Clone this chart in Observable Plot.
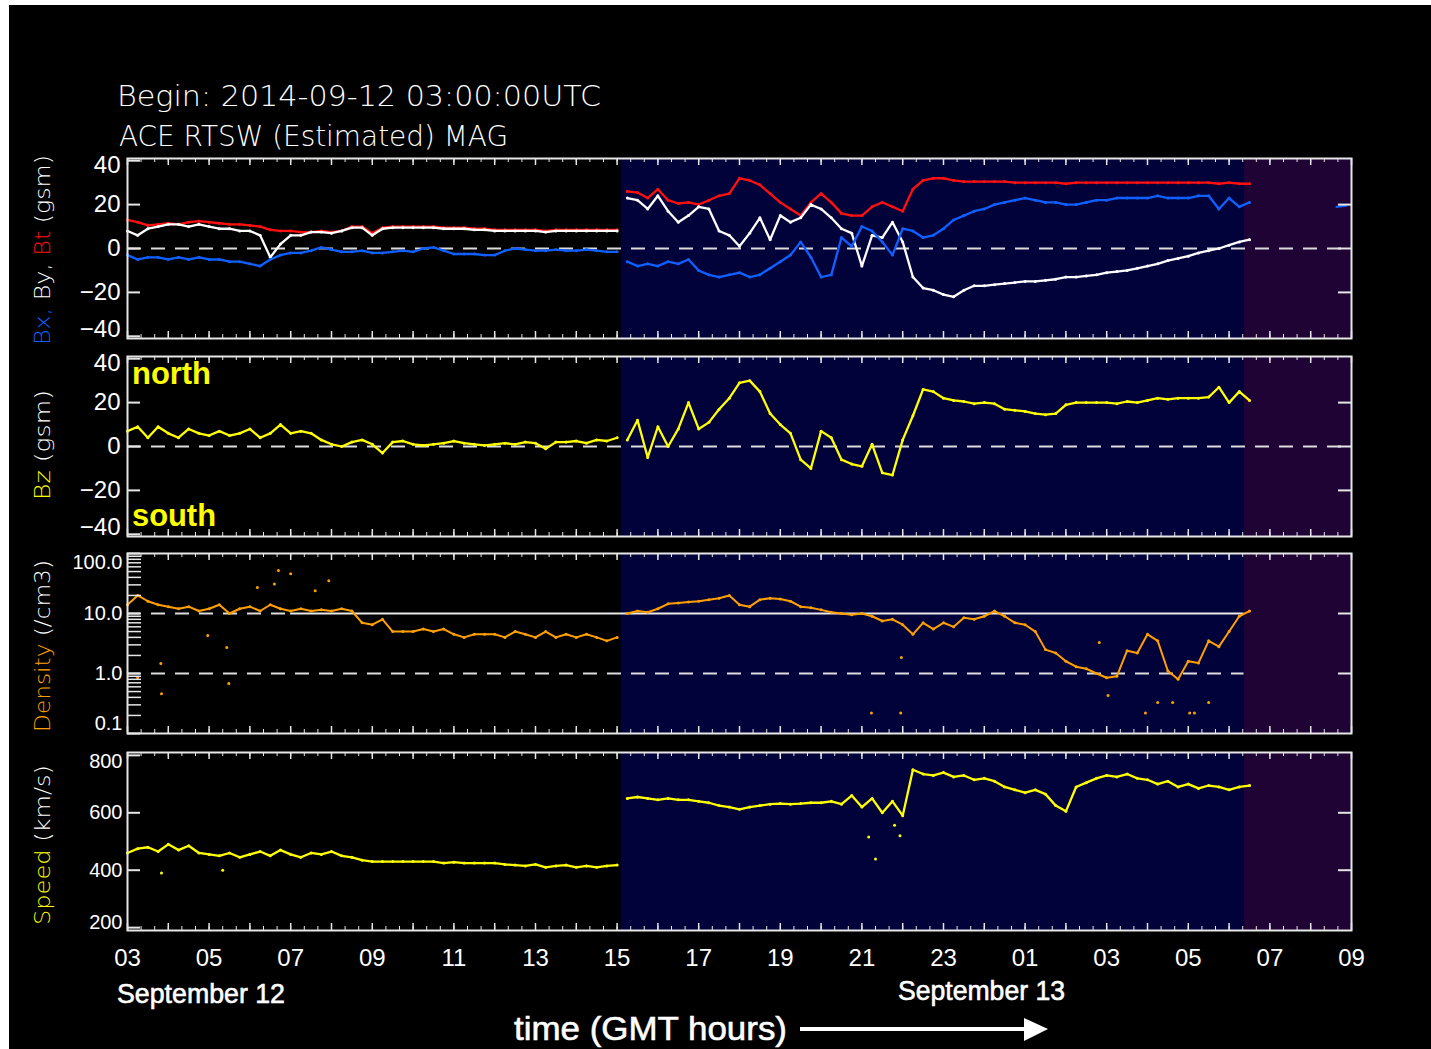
<!DOCTYPE html>
<html><head><meta charset="utf-8">
<script src="https://cdn.jsdelivr.net/npm/d3@7"></script>
<script src="https://cdn.jsdelivr.net/npm/@observablehq/plot@0.6"></script>
<style>
html,body{margin:0;padding:0;background:#fff;}
#page{position:relative;width:1431px;height:1049px;overflow:hidden;}
#bg{position:absolute;left:9px;top:5px;width:1422px;height:1044px;background:#000;}
.panel{position:absolute;left:0;}
#overlay{position:absolute;left:0;top:0;pointer-events:none;}
</style></head><body>
<div id="page">
<div id="bg"></div>
<div id="p1" class="panel"></div>
<div id="p2" class="panel"></div>
<div id="p3" class="panel"></div>
<div id="p4" class="panel"></div>
<svg id="overlay" width="1431" height="1049"></svg>
</div>
<script>
// ---------- data, 15-minute samples from 2014-09-12 03:00 UTC ----------
const startTime = "2014-09-12T03:00:00Z";
const endTime = "2014-09-13T09:00:00Z";
const stepMinutes = 15;
const navyStart = "2014-09-12T15:06:00Z";
const purpleStart = "2014-09-13T06:22:00Z";

const bt = [13,12,10.5,11,11.5,11,12,12.5,12,11.5,11,11,
  10.5,10,8.5,8,8,7.5,7.5,8,7.5,8,10,10,
  7,9.5,10,10,10,10,10,9.5,9.5,9.5,9,9,
  8.5,8.5,8.5,8.5,8.5,8,8.5,8.5,8.5,8.5,8.5,8.5,
  8.5,26,25.5,23,27,22,20.5,21,20,22,24,25,
  32,31,29,25,21,18,15,21,25,21,16,15,
  15,19,21,19,17,27,31,32,32,31,30.5,30.5,
  30.5,30.5,30.5,30,30,30,30,30,29.5,30,30,30,
  30,30,30,30,30,30,30,30,30,30,30,29.5,
  30,29.5,29.5];
const by = [8,6,9,10,11,11,10,11,10,9,9,8,
  8,6,-4,2,6,6,7.5,7.5,7,8,9.5,9.5,
  6,9,9.5,9.5,9.5,9.5,9.5,9,9,9,8.5,8.5,
  8,8,8,8,8,7.5,8,8,8,8,8,8,
  8,23,22,18,24,17,12,15,19,18,8,6,
  1,7,14,4,15,12,14,20,18,14,9,7,
  -8,6,5,12,3,-13,-18,-19,-21,-22,-19,-17,
  -17,-16.5,-16,-15.5,-15,-15,-14.5,-14,-13,-13,-12.5,-12,
  -11,-10.5,-10,-9,-8,-7,-5.5,-4.5,-3.5,-2,-1,0,
  1.5,3,4];
const bx = [-3,-5,-4,-4,-5,-4,-5,-4,-5,-5,-6,-6,
  -7,-8,-5,-3,-2,-2,-1,0.5,-0.5,-1.5,-1.5,-1,
  -2,-2,-1.5,-1,-1.5,0,0.5,-1,-2.5,-2.5,-2.5,-3,
  -3,-1,0,-0.5,-1,-1,-0.5,-1,-1,-0.5,-1,-1.5,
  -1.5,-6,-8,-7,-8,-6,-7,-5,-10,-12,-13,-12,
  -11,-13,-12,-9,-6,-3,3,-4,-13,-12,5,1,
  10,8,3,-3,9,8,5,6,9,13,15,17,
  18,20,21,22,23,22,21,21,20,20,21,22,
  22,23,23,23,23,24,23,23,23,24,24,18,
  23,19,21];
const bxLateTimes = ["2014-09-13T08:38:00Z","2014-09-13T08:52:00Z"];
const bxLateValues = [19,19.5];

const bz = [7,9,4,9,6,4,8,6,5,7,5,6,
  8,4,6,10,6,7,6,3,1,0,2,3,
  1,-3,2,2.5,1,0.5,1,1.5,2.5,1.5,1,0.5,
  1,1.5,1,2,1.5,-1,2,2,2.5,1.5,3,2.5,
  4,3,12,-5,9,0,8,20,8,11,17,22,
  29,30,25,15,10,6,-6,-10,7,4,-6,-8,
  -9,1,-12,-13,3,14,26,25,22,21,20.5,19.5,
  20,19.5,17,16.5,16,15,14.5,15,19,20,20,20,
  20,19.5,20.5,20,21,22,21.5,22,22,22,22.5,27,
  20,25,21];

const density = [14,20,16,14,13,12,13,11,12,14,10,12,
  13,11,14,12,11,12,11,11.5,11,12,11,7,
  6.5,8,5,5,5,5.5,5,5.5,4.5,4,4.5,4.5,
  4.5,4,5,4.5,4,5,4,4.5,4,4.5,4,3.5,
  4,10,11,10.5,12,14.5,15,15.5,16,17,18,20,
  14,13,17,18,17.5,16,13,12.5,11.5,10.5,10,9.5,
  10,9,7.5,8,6.5,4.5,7,5.5,7,6,8.5,8,
  9,11,9,7,6.5,5,2.5,2.2,1.6,1.3,1.2,1.0,
  0.85,0.9,2.4,2.2,4.5,3.5,1.1,0.8,1.6,1.5,3.5,2.8,
  5,9,11];
const densityOutlierTimes = ["2014-09-12T03:15:00Z","2014-09-12T03:49:00Z","2014-09-12T03:50:00Z","2014-09-12T04:58:00Z",
  "2014-09-12T05:26:00Z","2014-09-12T05:29:00Z","2014-09-12T06:11:00Z","2014-09-12T06:36:00Z","2014-09-12T06:42:00Z",
  "2014-09-12T07:00:00Z","2014-09-12T07:36:00Z","2014-09-12T07:56:00Z","2014-09-12T21:14:00Z","2014-09-12T21:57:00Z",
  "2014-09-12T21:58:00Z","2014-09-13T02:49:00Z","2014-09-13T03:02:00Z","2014-09-13T03:57:00Z","2014-09-13T04:15:00Z",
  "2014-09-13T04:37:00Z","2014-09-13T05:02:00Z","2014-09-13T05:09:00Z","2014-09-13T05:30:00Z"];
const densityOutlierValues = [0.86,1.47,0.46,4.3,2.7,0.68,27,31,52,46,24,35,0.22,0.22,1.85,3.3,0.43,0.22,0.33,0.33,0.22,0.22,0.33];

const speed = [460,475,480,465,490,470,485,460,455,450,460,445,
  455,465,450,470,455,445,460,455,465,450,445,435,
  430,430,430,430,430,430,430,425,428,425,425,425,
  425,420,418,415,420,410,415,418,410,415,410,415,
  418,650,655,650,645,650,645,645,640,635,625,620,
  612,620,625,630,632,630,632,635,635,640,630,660,
  620,650,600,640,590,750,735,730,740,725,730,715,
  720,710,690,680,670,680,665,625,605,690,705,720,
  730,725,735,720,715,700,710,690,700,685,695,690,
  680,690,695];
const speedOutlierTimes = ["2014-09-12T03:50:00Z","2014-09-12T05:20:00Z","2014-09-12T21:10:00Z","2014-09-12T21:20:00Z","2014-09-12T21:48:00Z","2014-09-12T21:56:00Z"];
const speedOutlierValues = [390,400,516,439,557,520];

const hourLabels = ["03","05","07","09","11","13","15","17","19","21","23","01","03","05","07","09"];
const fieldTicks = [-40,-20,0,20,40];
const densityTicks = [0.1,1,10,100];
const densityTickLabels = ["0.1","1.0","10.0","100.0"];
const densityMinorTicks = [0.2,0.3,0.4,0.5,0.6,0.7,0.8,0.9,2,3,4,5,6,7,8,9,20,30,40,50,60,70,80,90];
const speedTicks = [200,400,600,800];

// ---------- colours ----------
const C = {bt:"#ff1010", by:"#ffffff", bx:"#1060ff", bz:"#ffff00", dens:"#ffa000", speed:"#ffff00",
  navy:"#02023a", purple:"#1f0334", frame:"#e6e6e6"};

// ---------- build tables ----------
const t0 = new Date(startTime), tEnd = new Date(endTime);
const navy = new Date(navyStart), purple = new Date(purpleStart);
const times = bt.map((_, i) => new Date(+t0 + i * stepMinutes * 60000));
const rows = times.map((t, i) => ({t, seg: t < navy ? "a" : "b", bt: bt[i], by: by[i], bx: bx[i], bz: bz[i], density: density[i], speed: speed[i]}));
const bxLate = bxLateTimes.map((s, i) => ({t: new Date(s), v: bxLateValues[i]}));
const densOut = densityOutlierTimes.map((s, i) => ({t: new Date(s), v: densityOutlierValues[i]}));
const speedOut = speedOutlierTimes.map((s, i) => ({t: new Date(s), v: speedOutlierValues[i]}));
const regions = [{x1: navy, x2: purple, fill: C.navy}, {x1: purple, x2: tEnd, fill: C.purple}];
const minorTimes = d3.utcMinute.every(20).range(t0, new Date(+tEnd + 1));
const majorTimes = d3.utcHour.every(1).range(t0, new Date(+tEnd + 1));
const hourTicks = d3.utcHour.every(1).range(t0, new Date(+tEnd + 1)).filter((d, i) => i % 2 === 0);

const W = 1431, ML = 127, MR = 80, FW = W - ML - MR;

function series(field, color, w = 2.3, r = 1.5) {
  return [
    Plot.line(rows, {x: "t", y: field, z: "seg", stroke: color, strokeWidth: w}),
    Plot.dot(rows, {x: "t", y: field, r, fill: color, stroke: "none"})
  ];
}

function frameMarks(frameH, leftTicks, rightTicks, minorLeft) {
  const m = [
    Plot.frame({stroke: C.frame, strokeWidth: 2}),
    Plot.tickX(minorTimes, {x: d => d, stroke: C.frame, strokeWidth: 1, insetBottom: frameH - 4}),
    Plot.tickX(majorTimes, {x: d => d, stroke: C.frame, strokeWidth: 1.5, insetBottom: frameH - 7}),
    Plot.tickX(minorTimes, {x: d => d, stroke: C.frame, strokeWidth: 1, insetTop: frameH - 4}),
    Plot.tickX(majorTimes, {x: d => d, stroke: C.frame, strokeWidth: 1.5, insetTop: frameH - 7}),
    Plot.tickY(leftTicks, {y: d => d, stroke: C.frame, strokeWidth: 2, insetRight: FW - 13}),
    Plot.tickY(rightTicks, {y: d => d, stroke: C.frame, strokeWidth: 2, insetLeft: FW - 13})
  ];
  if (minorLeft) m.push(Plot.tickY(minorLeft, {y: d => d, stroke: C.frame, strokeWidth: 1.5, insetRight: FW - 14}));
  return m;
}

// y tick labels: the end labels sit slightly inside the frame, as in the reference
function yLabels(ticks, fontSize, pad, dyTop, dyBottom, fmt) {
  const top = ticks[ticks.length - 1], bottom = ticks[0], mid = ticks.slice(1, -1);
  const base = {tickSize: 0, tickPadding: pad, fontSize, fill: "white", label: null};
  if (fmt) base.tickFormat = fmt;
  return [
    Plot.axisY({...base, ticks: mid}),
    Plot.axisY({...base, ticks: [top], dy: dyTop}),
    Plot.axisY({...base, ticks: [bottom], dy: dyBottom})
  ];
}

function panel(id, frameTop, frameH, yScale, marks, mb = 14) {
  const mt = 14;
  const el = document.getElementById(id);
  el.style.top = (frameTop - mt) + "px";
  el.appendChild(Plot.plot({
    width: W, height: frameH + mt + mb,
    marginLeft: ML, marginRight: MR, marginTop: mt, marginBottom: mb,
    style: {background: "transparent", color: "white", fontFamily: "Liberation Sans, Arial, sans-serif", overflow: "visible"},
    x: {type: "utc", domain: [t0, tEnd], axis: null, label: null},
    y: {...yScale, label: null},
    marks: [Plot.rect(regions, {x1: "x1", x2: "x2", fill: "fill"}), ...marks]
  }));
}

const dash = "14,10";

// Panel 1: Bx, By, Bt
panel("p1", 158, 180, {domain: [-41, 41]}, [
  Plot.ruleY([0], {stroke: "#dcdcdc", strokeWidth: 2, strokeDasharray: dash}),
  ...series("bt", C.bt),
  ...series("by", C.by),
  ...series("bx", C.bx),
  Plot.line(bxLate, {x: "t", y: "v", stroke: C.bx, strokeWidth: 2.3}),
  ...frameMarks(180, fieldTicks, [-20, 0, 20]),
  ...yLabels(fieldTicks, 24, 7, 5, -7)
]);

// Panel 2: Bz
panel("p2", 356, 180, {domain: [-41, 41]}, [
  Plot.ruleY([0], {stroke: "#dcdcdc", strokeWidth: 2, strokeDasharray: dash}),
  ...series("bz", C.bz),
  ...frameMarks(180, fieldTicks, [-20, 0, 20]),
  ...yLabels(fieldTicks, 24, 7, 5, -7)
]);

// Panel 3: Density (log)
const refLines = [
  {y: 10, x1: t0, x2: new Date("2014-09-12T07:00:00Z"), dashed: true},
  {y: 10, x1: new Date("2014-09-12T07:00:00Z"), x2: purple, dashed: false},
  {y: 1, x1: t0, x2: purple, dashed: true}
];
panel("p3", 553, 180, {type: "log", domain: [0.1, 100]}, [
  Plot.ruleY(refLines.filter(d => d.dashed), {y: "y", x1: "x1", x2: "x2", stroke: "#dcdcdc", strokeWidth: 2, strokeDasharray: dash}),
  Plot.ruleY(refLines.filter(d => !d.dashed), {y: "y", x1: "x1", x2: "x2", stroke: "#e8e8e8", strokeWidth: 2}),
  ...series("density", C.dens, 2, 1.5),
  Plot.dot(densOut, {x: "t", y: "v", r: 1.5, fill: C.dens, stroke: "none"}),
  ...frameMarks(180, densityTicks, [1, 10], densityMinorTicks),
  ...yLabels(densityTicks, 20, 5, 9, -10, d => densityTickLabels[densityTicks.indexOf(d)])
]);

// Panel 4: Speed
panel("p4", 752, 178, {domain: [190, 810]}, [
  ...series("speed", C.speed),
  Plot.dot(speedOut, {x: "t", y: "v", r: 1.5, fill: C.speed, stroke: "none"}),
  ...frameMarks(178, speedTicks, [400, 600]),
  ...yLabels(speedTicks, 20, 5, 6, -5),
  Plot.axisX({ticks: hourTicks, tickSize: 0, tickPadding: 18, fontSize: 24, fill: "white", label: null,
    tickFormat: d => hourLabels[hourTicks.findIndex(h => +h === +d)]})
], 50);

// ---------- text annotations ----------
const ov = d3.select("#overlay");
function txt(x, y, s, opts = {}) {
  const t = ov.append("text").attr("x", x).attr("y", y).text(s)
    .attr("fill", opts.fill || "white")
    .attr("font-family", opts.font || "Liberation Sans, Arial, sans-serif")
    .attr("font-size", opts.size || 24)
    .attr("font-weight", opts.weight || "normal");
  if (opts.len) t.attr("textLength", opts.len).attr("lengthAdjust", "spacingAndGlyphs");
  if (opts.stroke) t.attr("stroke", opts.fill || "white").attr("stroke-width", opts.stroke);
  return t;
}
txt(117, 106, "Begin: 2014-09-12 03:00:00UTC", {font: "DejaVu Sans, sans-serif", size: 29, weight: 200, len: 484});
txt(119, 146, "ACE RTSW (Estimated) MAG", {font: "DejaVu Sans, sans-serif", size: 29, weight: 200, len: 389});

function vlabel(cx, cy, len, parts) {
  const t = ov.append("text").attr("transform", `translate(${cx},${cy}) rotate(-90)`)
    .attr("text-anchor", "middle").attr("font-family", "DejaVu Sans, sans-serif")
    .attr("font-size", 22).attr("font-weight", 200)
    .attr("textLength", len).attr("lengthAdjust", "spacingAndGlyphs");
  parts.forEach(([s, c]) => t.append("tspan").attr("fill", c).text(s));
}
vlabel(50, 250, 190, [["Bx,", C.bx], [" By,", "white"], [" Bt", C.bt], [" (gsm)", "white"]]);
vlabel(50, 445, 110, [["Bz", C.bz], ["  (gsm)", "white"]]);
vlabel(50, 646, 172, [["Density", C.dens], ["  (/cm3)", "white"]]);
vlabel(50, 845, 160, [["Speed", C.speed], ["  (km/s)", "white"]]);

txt(132, 384, "north", {fill: C.bz, size: 32, weight: "bold", len: 79});
txt(132, 526, "south", {fill: C.bz, size: 32, weight: "bold", len: 84});

txt(117, 1003, "September 12", {size: 27, stroke: 0.6, len: 168});
txt(898, 1000, "September 13", {size: 27, stroke: 0.6, len: 167});
txt(514, 1040, "time (GMT hours)", {size: 34, stroke: 0.6, len: 273});
ov.append("line").attr("x1", 800).attr("x2", 1028).attr("y1", 1029).attr("y2", 1029)
  .attr("stroke", "white").attr("stroke-width", 4);
ov.append("path").attr("d", "M1024,1018 L1048,1029 L1024,1041 Z").attr("fill", "white");
</script>
</body></html>
